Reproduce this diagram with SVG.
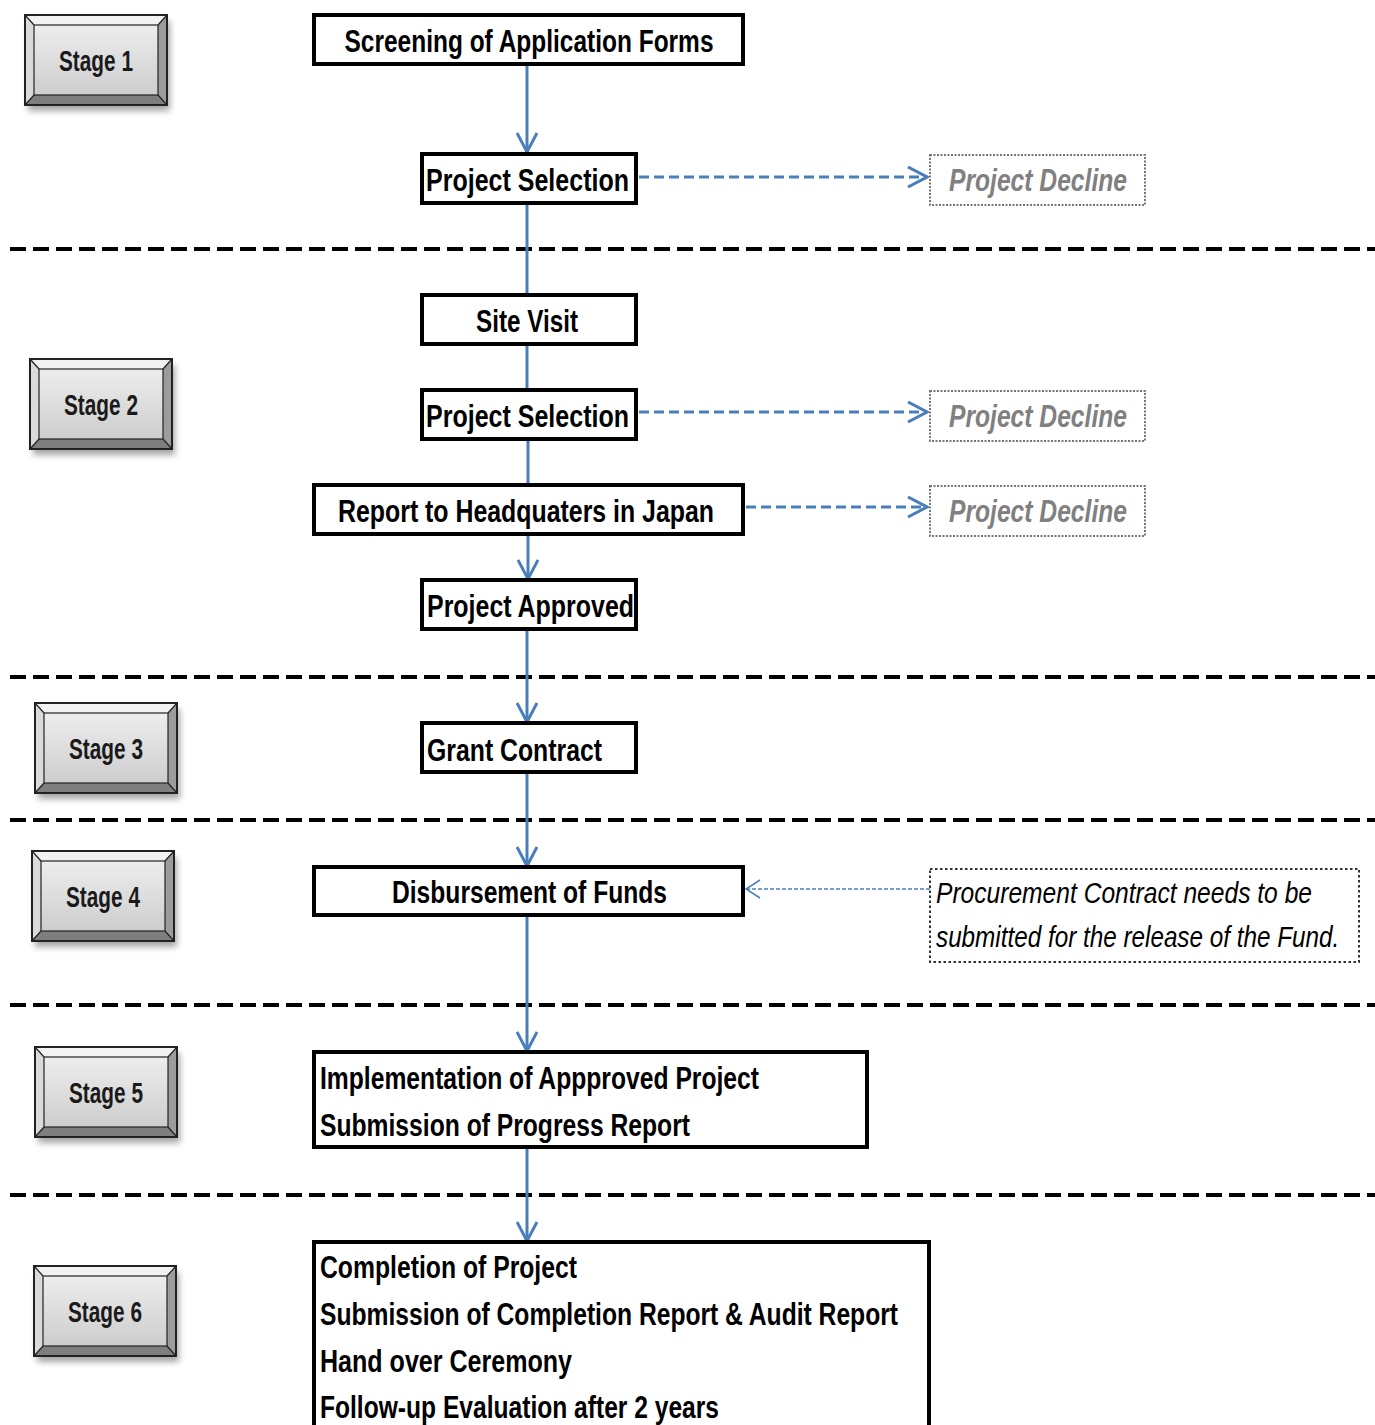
<svg xmlns="http://www.w3.org/2000/svg" xmlns:xlink="http://www.w3.org/1999/xlink" width="1375" height="1425" viewBox="0 0 1375 1425">
<defs>
<style>
.box{fill:#fff;stroke:#000;stroke-width:4}
.t{font-family:"Liberation Sans",Arial,sans-serif;font-weight:bold;font-size:31px;fill:#000}
.dec{fill:#fff;stroke:#777;stroke-width:2;stroke-dasharray:2 1.5}
.dt{font-family:"Liberation Sans",Arial,sans-serif;font-weight:bold;font-style:italic;font-size:31px;fill:#808080}
.pt{font-family:"Liberation Sans",Arial,sans-serif;font-style:italic;font-size:30px;fill:#000}
.st{font-family:"Liberation Sans",Arial,sans-serif;font-weight:bold;font-size:29px;fill:#1a1a1a}
.div{stroke:#000;stroke-width:4;stroke-dasharray:16 7;fill:none}
.c{stroke:#4a7ebb;stroke-width:3;fill:none}
.cd{stroke:#4a7ebb;stroke-width:3;fill:none;stroke-dasharray:10 5}
.ct{stroke:#4a7ebb;stroke-width:1.5;fill:none;stroke-dasharray:4 2}
</style>
<marker id="ah" markerUnits="userSpaceOnUse" viewBox="0 0 22 22" markerWidth="22" markerHeight="22" refX="20" refY="11" orient="auto">
<path d="M1,1 L20,11 L1,21" fill="none" stroke="#4a7ebb" stroke-width="3"/>
</marker>
<marker id="ahs" markerUnits="userSpaceOnUse" viewBox="0 0 16 22" markerWidth="16" markerHeight="22" refX="15" refY="11" orient="auto">
<path d="M1,2 L15,11 L1,20" fill="none" stroke="#4a7ebb" stroke-width="1.5"/>
</marker>
<linearGradient id="face" x1="0" y1="0" x2="0" y2="1">
<stop offset="0" stop-color="#ededed"/>
<stop offset="1" stop-color="#cdcdcd"/>
</linearGradient>
<filter id="sh" x="-20%" y="-20%" width="140%" height="150%">
<feGaussianBlur stdDeviation="3"/>
</filter>
<g id="btn">
<rect x="3" y="6" width="142" height="90" fill="#000" opacity="0.35" filter="url(#sh)"/>
<polygon points="0,0 142,0 133,10 9,10" fill="#f2f2f2"/>
<polygon points="0,0 9,10 9,80 0,90" fill="#dadada"/>
<polygon points="142,0 142,90 133,80 133,10" fill="#9c9c9c"/>
<polygon points="0,90 142,90 133,80 9,80" fill="#7e7e7e"/>
<rect x="9" y="10" width="124" height="70" fill="url(#face)" stroke="#222" stroke-width="1.2"/>
<path d="M0,0 L9,10 M142,0 L133,10 M142,90 L133,80 M0,90 L9,80" stroke="#222" stroke-width="1.2"/>
<rect x="0" y="0" width="142" height="90" fill="none" stroke="#222" stroke-width="2"/>
</g>
</defs>
<rect width="1375" height="1425" fill="#fff"/>

<g id="dividers">
<line class="div" x1="10" y1="249" x2="1375" y2="249"/>
<line class="div" x1="10" y1="677" x2="1375" y2="677"/>
<line class="div" x1="10" y1="820" x2="1375" y2="820"/>
<line class="div" x1="10" y1="1005" x2="1375" y2="1005"/>
<line class="div" x1="10" y1="1195" x2="1375" y2="1195"/>
</g>

<g id="stage1" transform="translate(25,15)"><use xlink:href="#btn"/><text class="st" x="71" y="56" text-anchor="middle" textLength="74" lengthAdjust="spacingAndGlyphs">Stage 1</text></g>
<g id="stage2" transform="translate(30,359)"><use xlink:href="#btn"/><text class="st" x="71" y="56" text-anchor="middle" textLength="74" lengthAdjust="spacingAndGlyphs">Stage 2</text></g>
<g id="stage3" transform="translate(35,703)"><use xlink:href="#btn"/><text class="st" x="71" y="56" text-anchor="middle" textLength="74" lengthAdjust="spacingAndGlyphs">Stage 3</text></g>
<g id="stage4" transform="translate(32,851)"><use xlink:href="#btn"/><text class="st" x="71" y="56" text-anchor="middle" textLength="74" lengthAdjust="spacingAndGlyphs">Stage 4</text></g>
<g id="stage5" transform="translate(35,1047)"><use xlink:href="#btn"/><text class="st" x="71" y="56" text-anchor="middle" textLength="74" lengthAdjust="spacingAndGlyphs">Stage 5</text></g>
<g id="stage6" transform="translate(34,1266)"><use xlink:href="#btn"/><text class="st" x="71" y="56" text-anchor="middle" textLength="74" lengthAdjust="spacingAndGlyphs">Stage 6</text></g>

<g id="connectors">
<line class="c" x1="527" y1="64" x2="527" y2="152" marker-end="url(#ah)"/>
<line class="c" x1="527" y1="203" x2="527" y2="295"/>
<line class="c" x1="527" y1="344" x2="527" y2="390"/>
<line class="c" x1="528" y1="439" x2="528" y2="485"/>
<line class="c" x1="528" y1="534" x2="528" y2="579" marker-end="url(#ah)"/>
<line class="c" x1="527" y1="629" x2="527" y2="722" marker-end="url(#ah)"/>
<line class="c" x1="527" y1="772" x2="527" y2="866" marker-end="url(#ah)"/>
<line class="c" x1="527" y1="915" x2="527" y2="1051" marker-end="url(#ah)"/>
<line class="c" x1="527" y1="1147" x2="527" y2="1241" marker-end="url(#ah)"/>
<line class="cd" x1="639" y1="177" x2="927" y2="177" marker-end="url(#ah)"/>
<line class="cd" x1="639" y1="412" x2="927" y2="412" marker-end="url(#ah)"/>
<line class="cd" x1="746" y1="507" x2="927" y2="507" marker-end="url(#ah)"/>
<line class="ct" x1="930" y1="889" x2="746" y2="889" marker-end="url(#ahs)"/>
</g>

<g id="screening"><rect class="box" x="314" y="15" width="429" height="49"/><text class="t" x="529" y="52" text-anchor="middle" textLength="369" lengthAdjust="spacingAndGlyphs">Screening of Application Forms</text></g>
<g id="selection1"><rect class="box" x="422" y="154" width="214" height="49"/><text class="t" x="426" y="191" textLength="203" lengthAdjust="spacingAndGlyphs">Project Selection</text></g>
<g id="decline1"><rect class="dec" x="930" y="155" width="215" height="50"/><text class="dt" x="949" y="191" textLength="178" lengthAdjust="spacingAndGlyphs">Project Decline</text></g>
<g id="sitevisit"><rect class="box" x="422" y="295" width="214" height="49"/><text class="t" x="527" y="332" text-anchor="middle" textLength="102" lengthAdjust="spacingAndGlyphs">Site Visit</text></g>
<g id="selection2"><rect class="box" x="422" y="390" width="214" height="49"/><text class="t" x="426" y="427" textLength="203" lengthAdjust="spacingAndGlyphs">Project Selection</text></g>
<g id="decline2"><rect class="dec" x="930" y="391" width="215" height="50"/><text class="dt" x="949" y="427" textLength="178" lengthAdjust="spacingAndGlyphs">Project Decline</text></g>
<g id="report"><rect class="box" x="314" y="485" width="429" height="49"/><text class="t" x="338" y="522" textLength="376" lengthAdjust="spacingAndGlyphs">Report to Headquaters in Japan</text></g>
<g id="decline3"><rect class="dec" x="930" y="486" width="215" height="50"/><text class="dt" x="949" y="522" textLength="178" lengthAdjust="spacingAndGlyphs">Project Decline</text></g>
<g id="approved"><rect class="box" x="422" y="580" width="214" height="49"/><text class="t" x="427" y="617" textLength="207" lengthAdjust="spacingAndGlyphs">Project Approved</text></g>
<g id="grant"><rect class="box" x="422" y="723" width="214" height="49"/><text class="t" x="427" y="761" textLength="175" lengthAdjust="spacingAndGlyphs">Grant Contract</text></g>
<g id="disbursement"><rect class="box" x="314" y="867" width="429" height="48"/><text class="t" x="392" y="903" textLength="275" lengthAdjust="spacingAndGlyphs">Disbursement of Funds</text></g>
<g id="procurement"><rect x="930" y="869" width="429" height="93" fill="#fff" stroke="#333" stroke-width="2" stroke-dasharray="2.5 2.5"/><text class="pt" transform="translate(936,903) scale(0.8,1)" x="0" y="0" textLength="470" lengthAdjust="spacingAndGlyphs">Procurement Contract needs to be</text><text class="pt" transform="translate(936,947) scale(0.8,1)" x="0" y="0" textLength="504" lengthAdjust="spacingAndGlyphs">submitted for the release of the Fund.</text></g>
<g id="implementation"><rect class="box" x="314" y="1052" width="553" height="95"/><text class="t" x="320" y="1089" textLength="439" lengthAdjust="spacingAndGlyphs">Implementation of Appproved Project</text><text class="t" x="320" y="1136" textLength="370" lengthAdjust="spacingAndGlyphs">Submission of Progress Report</text></g>
<g id="completion"><rect class="box" x="314" y="1242" width="615" height="200"/><text class="t" x="320" y="1278" textLength="257" lengthAdjust="spacingAndGlyphs">Completion of Project</text><text class="t" x="320" y="1325" textLength="578" lengthAdjust="spacingAndGlyphs">Submission of Completion Report &amp; Audit Report</text><text class="t" x="320" y="1372" textLength="252" lengthAdjust="spacingAndGlyphs">Hand over Ceremony</text><text class="t" x="320" y="1418" textLength="399" lengthAdjust="spacingAndGlyphs">Follow-up Evaluation after 2 years</text></g>
</svg>
